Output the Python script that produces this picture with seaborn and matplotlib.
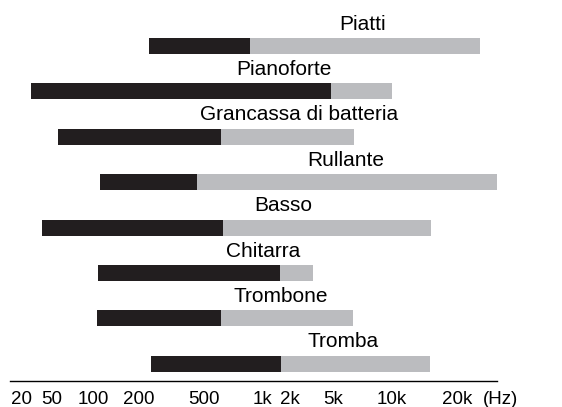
import numpy as np
import matplotlib
matplotlib.use('Agg')
import matplotlib.pyplot as plt
import matplotlib.transforms as mtransforms
import seaborn as sns

# strumenti e gamme di frequenza (Hz)
instruments = ["Piatti", "Pianoforte", "Grancassa di batteria", "Rullante",
               "Basso", "Chitarra", "Trombone", "Tromba"]
low_hz = [246, 30, 57, 115, 40, 111, 109, 255]          # inizio fondamentali
fund_top_hz = [900, 4860, 647, 468, 664, 1640, 647, 1680]  # fine fondamentali
harm_top_hz = [23500, 10000, 6780, 26300, 16000, 3600, 6700, 15800]  # fine armoniche

tick_hz = [20, 50, 100, 200, 500, 1000, 2000, 5000, 10000, 20000]
tick_labels = ["20", "50", "100", "200", "500", "1k", "2k", "5k", "10k", "20k"]

# scala schematica (non logaritmica pura): frequenza -> posizione
anchor_hz = [0, 20, 50, 100, 200, 500, 1000, 2000, 5000, 10000, 20000, 30000]
anchor_pos = [0.33, 21, 52, 93, 139, 204, 262, 290, 333, 392, 457, 522]

# posizione orizzontale delle etichette (frazione dell'asse)
label_frac = [(p - 10) / 487 for p in [363, 284, 299, 346, 283, 263, 281, 343]]

DARK = "#221e1f"
GREY = "#bbbcbf"

sns.set_theme(style="white")
plt.rcParams['font.family'] = ['Liberation Sans', 'DejaVu Sans']


def fwd(f):
    return np.interp(f, anchor_hz, anchor_pos)


def inv(p):
    return np.interp(p, anchor_pos, anchor_hz)


fig = plt.figure(figsize=(5.62, 4.07), dpi=100)
ax = fig.add_axes([10 / 562, 26 / 407, 487 / 562, 381 / 407])
ax.set_xscale('function', functions=(fwd, inv))

ypos = np.arange(len(instruments))
h = 16 / 45.4
low = np.array(low_hz)
mid = np.array(fund_top_hz)
top = np.array(harm_top_hz)
ax.barh(ypos, top - mid, left=mid, height=h, color=GREY, linewidth=0)
ax.barh(ypos, mid - low, left=low, height=h, color=DARK, linewidth=0)

trans = mtransforms.blended_transform_factory(ax.transAxes, ax.transData)
for i, name in enumerate(instruments):
    ax.text(label_frac[i], i - 0.36, name, transform=trans, ha='center',
            va='baseline', fontsize=15, color='black')

ax.set_xlim(inv(10), inv(497))
ax.set_ylim(7.38, -1.013)
ax.set_xticks(tick_hz)
ax.set_xticklabels(tick_labels, fontsize=13.5)
ax.xaxis.set_minor_locator(matplotlib.ticker.NullLocator())
ax.tick_params(axis='x', length=0, pad=7, colors='black')
ax.set_yticks([])

# "(Hz)" sulla stessa riga delle etichette dei tick
hz_trans = ax.transAxes + mtransforms.ScaledTranslation(0, -7 / 72, fig.dpi_scale_trans)
ax.text((501 - 10) / 487, 0, "(Hz)", transform=hz_trans, ha='center',
        va='top', fontsize=13.5, color='black')

sns.despine(ax=ax, left=True, top=True, right=True)
ax.spines['bottom'].set_color('black')
ax.spines['bottom'].set_linewidth(1.0)

fig.savefig("out.png", dpi=100)
